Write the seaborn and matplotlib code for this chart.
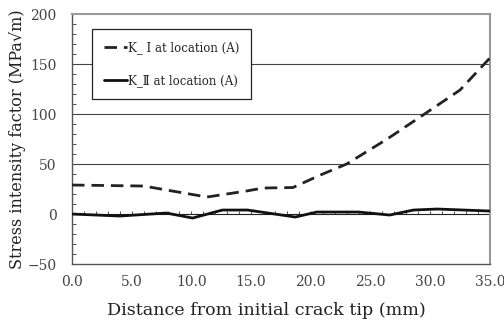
import numpy as np
import pandas as pd
import matplotlib
matplotlib.use("Agg")
import matplotlib.pyplot as plt
import seaborn as sns

# Data
k1_x = [0.0, 6.0, 11.3, 14.6, 16.0, 18.5, 20.8, 23.0, 26.4, 29.4, 32.5, 35.0]
k1_y = [29, 28, 17, 23, 26, 26.5, 39, 50, 75, 99, 124, 156]
k2_x = [0.0, 4.0, 7.9, 10.1, 12.6, 14.7, 18.7, 20.5, 24.0, 26.6, 28.6, 30.6, 35.0]
k2_y = [0, -2, 1, -4, 4, 4, -3, 2, 2, -1, 4, 5, 3]
xticks = [0, 5, 10, 15, 20, 25, 30, 35]
yticks = [-50, 0, 50, 100, 150, 200]

sns.set_theme(style="white")
serif = ['DejaVu Serif', 'Liberation Serif', 'Noto Sans CJK KR']
plt.rcParams['font.family'] = serif

fig = plt.figure(figsize=(5.04, 3.22), dpi=100)
ax = fig.add_axes([0.1429, 0.180, 0.8291, 0.7765])

df1 = pd.DataFrame({"x": k1_x, "y": k1_y})
df2 = pd.DataFrame({"x": k2_x, "y": k2_y})

ax.axhline(0, color="#222222", lw=0.8, zorder=1)
for v in [50, 100, 150]:
    ax.axhline(v, color="#444444", lw=0.8, zorder=1)
# small ticks on the zero line
ax.vlines(np.arange(0, 36, 1), 0, 3, color="#333333", lw=0.6, zorder=1)

sns.lineplot(data=df1, x="x", y="y", ax=ax, color="#222222", lw=2.0,
             linestyle=(0, (4.5, 2.5)), label="K_ Ⅰ at location (A)", zorder=3)
sns.lineplot(data=df2, x="x", y="y", ax=ax, color="#111111", lw=2.0,
             label="K_Ⅱ at location (A)", zorder=3)

ax.set_xlim(0, 35)
ax.set_ylim(-50, 200)
ax.set_xticks(xticks)
ax.set_xticklabels([f"{t:.1f}" for t in xticks])
ax.set_yticks(yticks)
ax.set_yticks(np.arange(-50, 201, 10), minor=True)
ax.tick_params(axis="y", which="minor", direction="in", length=3, width=0.6,
               color="#333333", left=True)
ax.tick_params(axis="y", which="major", length=0, labelsize=10, pad=11,
               labelcolor="#444444")
ax.tick_params(axis="x", which="major", length=0, labelsize=10, pad=8,
               labelcolor="#444444")

ax.set_xlabel("Distance from initial crack tip (mm)", fontsize=12.6,
              color="#222222", labelpad=6)
ax.xaxis.set_label_coords(0.464, -0.15, transform=ax.transAxes)
ax.xaxis.label.set_verticalalignment("top")
ax.set_ylabel("Stress intensity factor (MPa√m)", fontsize=11.5,
              color="#222222", labelpad=1)

for s in ["top", "right"]:
    ax.spines[s].set_color("#999999")
    ax.spines[s].set_linewidth(1.5)
ax.spines["left"].set_color("#555555")
ax.spines["left"].set_linewidth(1.0)
ax.spines["bottom"].set_color("#555555")
ax.spines["bottom"].set_linewidth(1.0)

leg = ax.legend(loc="upper left", bbox_to_anchor=(0.048, 0.94), fontsize=8.5,
                frameon=True, fancybox=False, framealpha=1, edgecolor="#222222",
                handlelength=2.0, handletextpad=0.05, borderpad=1.0,
                labelspacing=1.7, borderaxespad=0)
leg.get_frame().set_linewidth(0.9)

fig.savefig("out.png", dpi=100)
